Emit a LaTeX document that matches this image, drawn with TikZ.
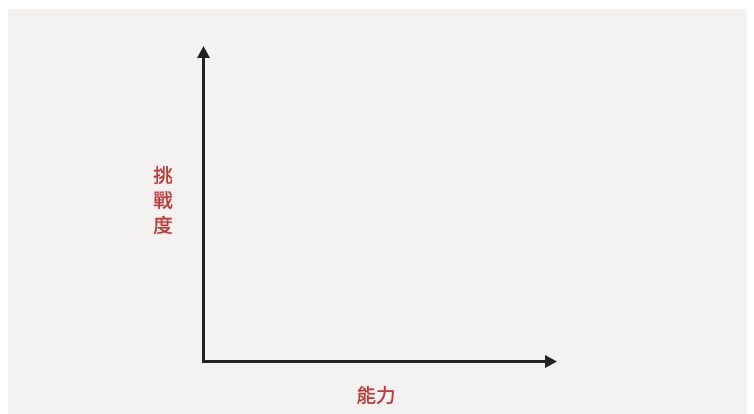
\documentclass[tikz,border=0pt]{standalone}
\usepackage{fontspec}
\newfontfamily\cjk[FakeBold=0.9]{Noto Sans CJK TC}
\usetikzlibrary{arrows.meta}
\definecolor{bgcol}{RGB}{243,242,241}
\definecolor{axiscol}{RGB}{34,34,34}
\definecolor{labelcol}{RGB}{200,52,48}
\tikzset{
  axisline/.style={draw=axiscol, line width=3.5pt, -{Triangle[length=12pt,width=12pt]}},
  axislabel/.style={text=labelcol, font=\cjk\fontsize{19.5}{25}\selectfont, inner sep=0pt}
}
\begin{document}
\begin{tikzpicture}[x=1pt,y=-1pt]
\useasboundingbox (0,0) rectangle (754,414);
\fill[bgcol] (8,9) rectangle (747,414);
\coordinate (origin) at (203.5,361.5);
\coordinate (ytip) at (203.5,46);
\coordinate (xtip) at (557,361.5);
\draw[axisline] ([yshift=1.75pt]origin) -- (ytip);
\draw[axisline] ([xshift=-1.75pt]origin) -- (xtip);
\node[axislabel, align=center] (ylab) at (163,200) {挑\\戰\\度};
\node[axislabel] (xlab) at (376,395) {能力};
\end{tikzpicture}
\end{document}
